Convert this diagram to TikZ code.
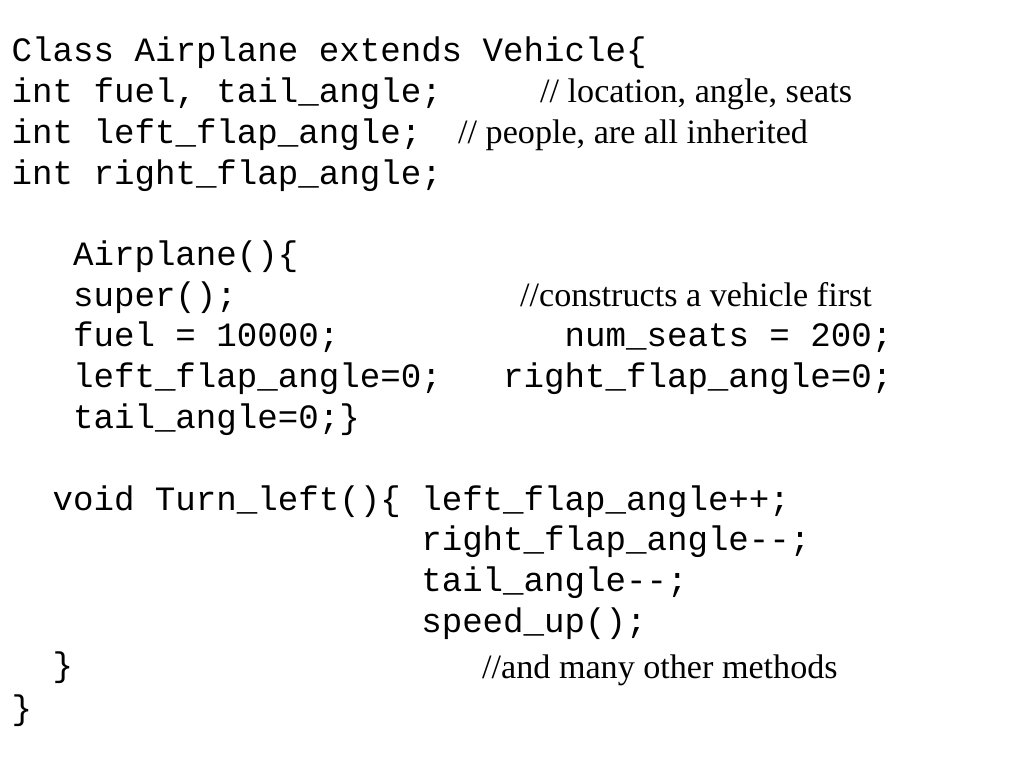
\documentclass[tikz,border=0pt]{standalone}
\usepackage{fontspec}
\setmainfont{Liberation Serif}
\setmonofont{Liberation Mono}
\begin{document}
\begin{tikzpicture}[x=1pt,y=1pt,
  code/.style={anchor=base west,inner sep=0pt,font=\ttfamily\fontsize{34.13}{41}\selectfont},
  cmt/.style={anchor=base west,inner sep=0pt,font=\rmfamily\fontsize{34.13}{41}\selectfont}]
\useasboundingbox[fill=white] (0,0) rectangle (1024,-768);
% header
\node[code] (l1) at (11.5,-62) {Class Airplane extends Vehicle\{};
\node[code] (l2) at (11.5,-102.7) {int fuel, tail\_angle;};
\node[cmt]  (c2) at (540,-102.7) {// location, angle, seats};
\node[code] (l3) at (11.5,-143.4) {int left\_flap\_angle;};
\node[cmt]  (c3) at (458,-143.4) {// people, are all inherited};
\node[code] (l4) at (11.5,-184.1) {int right\_flap\_angle;};
% constructor
\node[code] (l6) at (72.9,-265.5) {Airplane()\{};
\node[code] (l7) at (72.9,-306.2) {super();};
\node[cmt]  (c7) at (520,-306.2) {//constructs a vehicle first};
\node[code] (l8) at (72.9,-346.9) {fuel = 10000;};
\node[code] (l8b) at (564.5,-346.9) {num\_seats = 200;};
\node[code] (l9) at (72.9,-387.6) {left\_flap\_angle=0;};
\node[code] (l9b) at (503,-387.6) {right\_flap\_angle=0;};
\node[code] (l10) at (72.9,-428.3) {tail\_angle=0;\}};
% method
\node[code] (l12) at (52.4,-510) {void Turn\_left()\{};
\node[code] (l12b) at (421.1,-510) {left\_flap\_angle++;};
\node[code] (l13) at (421.1,-550.7) {right\_flap\_angle--;};
\node[code] (l14) at (421.1,-591.4) {tail\_angle--;};
\node[code] (l15) at (421.1,-632.1) {speed\_up();};
\node[code] (l16) at (52.4,-676) {\}};
\node[cmt]  (c16) at (482,-678) {//and many other methods};
\node[code] (l17) at (11.5,-719) {\}};
\end{tikzpicture}
\end{document}
